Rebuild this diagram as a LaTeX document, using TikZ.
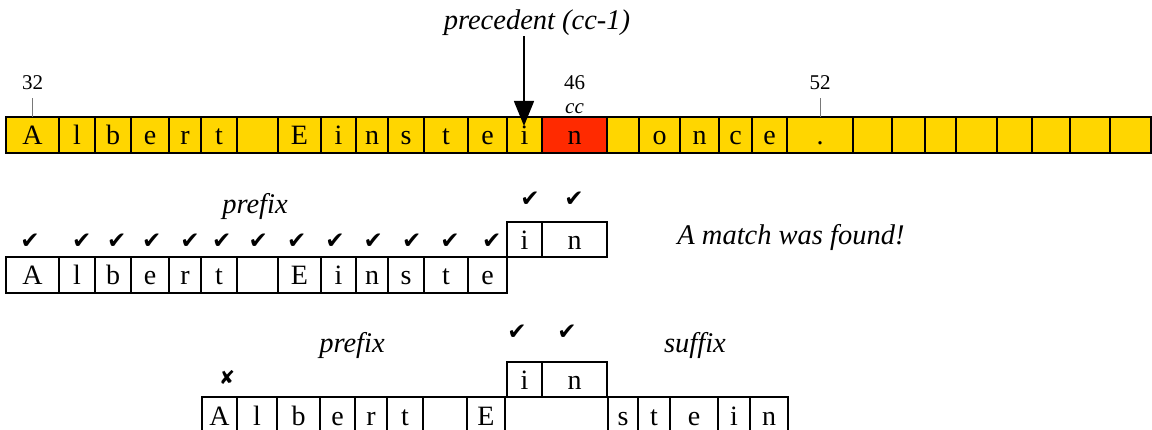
\documentclass[tikz,border=0pt]{standalone}
\usepackage{fontspec}
\setmainfont{Liberation Serif}
\newfontfamily\symfont{DejaVu Sans}
\usetikzlibrary{arrows.meta}
\definecolor{cellyellow}{RGB}{255,214,0}
\definecolor{cellred}{RGB}{255,42,0}
\definecolor{tickgray}{RGB}{120,120,120}

\tikzset{
  cellbase/.style={draw=black, inner sep=0pt, outer sep=0pt,
    text height=22pt, text depth=2pt, font=\fontsize{28}{30}\selectfont},
  strip/.style={cellbase, fill=cellyellow, line width=1.6pt},
  hot/.style={strip, fill=cellred},
  box/.style={cellbase, line width=1.3pt},
  lab/.style={font=\fontsize{28.5}{31}\selectfont\itshape, inner sep=0pt, anchor=base},
  num/.style={font=\fontsize{21}{24}\selectfont, inner sep=0pt, anchor=base},
  numit/.style={num, font=\fontsize{21}{24}\selectfont\itshape},
  ok/.style={font=\symfont\fontsize{23}{26}\selectfont, inner sep=0pt},
  bad/.style={font=\symfont\fontsize{19}{22}\selectfont, inner sep=0pt},
  tick/.style={draw=tickgray, line width=0.9pt},
  pointer/.style={line width=1.5pt, -{Triangle[width=20pt,length=25pt]}},
}

\begin{document}
\begin{tikzpicture}[x=1pt, y=-1pt]
\useasboundingbox (0,0) rectangle (1152,430);

% ---- text strip with positions 32 ... ----
\foreach \l/\r/\ch/\st [count=\i] in {
  6/59/A/strip, 59/95/l/strip, 95/131/b/strip, 131/169/e/strip,
  169/201/r/strip, 201/237/t/strip, 237/278/{}/strip, 278/321/E/strip,
  321/356/i/strip, 356/388/n/strip, 388/424/s/strip, 424/468/t/strip,
  468/507/e/strip, 507/542/i/strip, 542/607/n/hot, 607/639/{}/strip,
  639/680/o/strip, 680/719/n/strip, 719/752/c/strip, 752/787/e/strip,
  787/853/./strip, 853/892/{}/strip, 892/925/{}/strip, 925/956/{}/strip,
  956/997/{}/strip, 997/1032/{}/strip, 1032/1070/{}/strip,
  1070/1110/{}/strip, 1110/1151/{}/strip}{
  \pgfmathsetmacro\cx{(\l+\r)/2}
  \pgfmathsetmacro\w{\r-\l}
  \node[\st, minimum width=\w pt, minimum height=36pt] (s\i) at (\cx,135) {\ch};
}

% position marks
\node[num] (n32) at (32.5,89.3) {32};
\draw[tick] (s1.north) -- (s1.north |- 0,98);
\node[num] (n52) at (820,89.3) {52};
\draw[tick] (s21.north) -- (s21.north |- 0,98);
\node[num] (n46) at (574.5,89.3) {46};
\node[numit] (ncc) at (574.5,113.3) {cc};

% precedent pointer
\node[lab] (prec) at (537,30) {precedent (cc-1)};
\coordinate (prevtip) at (524,126);
\draw[pointer] (prevtip |- prec.south) -- (prevtip);

% ---- successful alignment ----
\foreach \l/\r/\ch [count=\i] in {
  6/59/A, 59/95/l, 95/131/b, 131/169/e, 169/201/r, 201/237/t,
  237/278/{}, 278/321/E, 321/356/i, 356/388/n, 388/424/s,
  424/468/t, 468/507/e}{
  \pgfmathsetmacro\cx{(\l+\r)/2}
  \pgfmathsetmacro\w{\r-\l}
  \node[box, minimum width=\w pt, minimum height=36pt] (m\i) at (\cx,275) {\ch};
}
\node[box, minimum width=35pt, minimum height=35pt] (mi) at (524.5,239.5) {i};
\node[box, minimum width=65pt, minimum height=35pt] (mn) at (574.5,239.5) {n};

\foreach \x [count=\i] in {30,81.7,116.7,151.7,190,221.7,258.3,296.7,335,373.3,411.7,450,491.7}
  \node[ok] (mc\i) at (\x,241) {✔};
\node[ok] (mci) at (530,199) {✔};
\node[ok] (mcn) at (574,199) {✔};
\node[lab] (mpre) at (255,214) {prefix};
\node[lab] (found) at (791,245) {A match was found!};

% ---- failed alignment ----
\foreach \l/\r/\ch [count=\i] in {
  202/237/A, 237/277/l, 277/320/b, 320/355/e, 355/387/r, 387/423/t,
  423/467/{}, 467/505/E, 505/608/{}, 608/638/s, 638/670/t, 670/718/e,
  718/750/i, 750/788/n}{
  \pgfmathsetmacro\cx{(\l+\r)/2}
  \pgfmathsetmacro\w{\r-\l}
  \node[box, minimum width=\w pt, minimum height=36pt] (q\i) at (\cx,415) {\ch};
}
\node[box, minimum width=35pt, minimum height=35pt] (qi) at (524.5,379.5) {i};
\node[box, minimum width=65pt, minimum height=35pt] (qn) at (574.5,379.5) {n};

\node[ok] (qci) at (517,332) {✔};
\node[ok] (qcn) at (567,332) {✔};
\node[bad] (qx) at (227,377) {✘};
\node[lab] (qpre) at (352,353) {prefix};
\node[lab] (qsuf) at (695,353) {suffix};
\end{tikzpicture}
\end{document}
